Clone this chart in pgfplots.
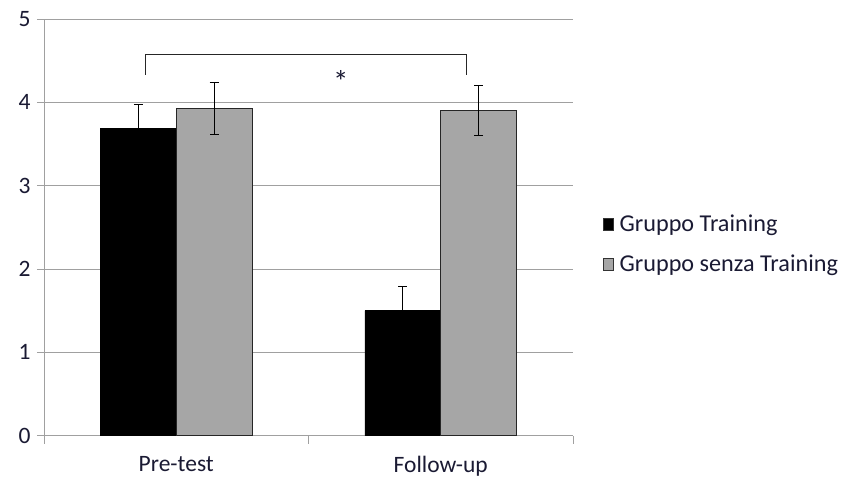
\documentclass[border=0pt]{standalone}
\usepackage{pgfplots}
\pgfplotsset{compat=1.18}
\usepackage{fontspec}
\setmainfont{Carlito}
\definecolor{bargray}{HTML}{A6A6A6}
\definecolor{gridgray}{HTML}{A0A0A0}
\definecolor{txt}{HTML}{1A1A33}
\begin{document}
\begin{tikzpicture}
\useasboundingbox (-44pt,-42.3pt) rectangle (798pt,435.7pt);
\begin{axis}[
  at={(0pt,0pt)}, anchor=south west,
  scale only axis, width=529pt, height=416.7pt,
  ymin=0, ymax=5, xmin=-0.5, xmax=1.5,
  ytick={0,1,2,3,4,5},
  ymajorgrids, grid style={gridgray, line width=0.8pt},
  axis x line*=bottom, axis y line*=left,
  axis line style={gridgray, line width=0.8pt},
  xtick={0,1}, xticklabels={Pre-test,Follow-up},
  major x tick style={draw=none},
  minor xtick={-0.5,0.5,1.5},
  minor x tick style={gridgray, line width=0.8pt},
  minor tick length=8pt,
  major tick length=7pt,
  y tick style={gridgray, line width=0.8pt},
  tick align=outside,
  /pgf/number format/assume math mode=true,
  tick label style={font=\fontsize{23.5}{26}\selectfont, text=txt},
  yticklabel style={xshift=-3pt},
  xticklabel style={yshift=-10pt},
  ybar=0pt, bar width=0.287,
  legend style={at={(1.057,0.46)}, anchor=west, draw=none, fill=none,
    font=\fontsize{24.2}{26}\selectfont, row sep=18pt, cells={anchor=west},
    text=txt, inner xsep=0pt, nodes={inner xsep=5.5pt}},
  legend image code/.code={\draw[#1, draw=black!80, line width=0.8pt] (0pt,-6pt) rectangle (10pt,6pt);},
  clip=false,
]
\addplot[fill=black, draw=black, line width=0.6pt,
  error bars/.cd, y dir=plus, y explicit,
  error bar style={black, line width=0.9pt},
  error mark options={rotate=90, mark size=4.5pt, line width=0.9pt, black}]
  table[x=x, y=y, y error=e] {
x y e
0 3.69 0.29
1 1.50 0.29
};
\addplot[fill=bargray, draw=black!85, line width=0.8pt,
  error bars/.cd, y dir=both, y explicit,
  error bar style={black, line width=0.9pt},
  error mark options={rotate=90, mark size=4.5pt, line width=0.9pt, black}]
  table[x=x, y=y, y error=e] {
x y e
0 3.93 0.31
1 3.90 0.30
};
\legend{Gruppo Training, Gruppo senza Training}
\addplot[black!85, line width=1pt, sharp plot, no marks, forget plot] coordinates {(-0.118,4.33) (-0.118,4.57) (1.099,4.57) (1.099,4.33)};
\node[font=\fontsize{31}{32}\selectfont, text=txt, inner sep=0pt] at (axis cs:0.622,4.25) {*};
\end{axis}
\end{tikzpicture}
\end{document}
